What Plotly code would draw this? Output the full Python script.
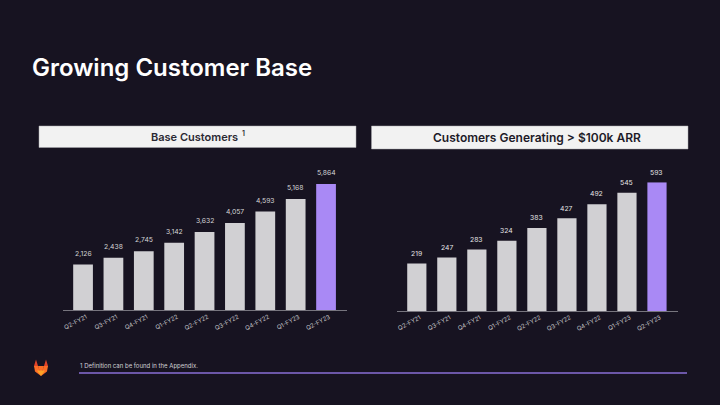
import plotly.graph_objects as go

W, H = 720, 405
categories_left = ["Q2-FY21", "Q3-FY21", "Q4-FY21", "Q1-FY22", "Q2-FY22", "Q3-FY22", "Q4-FY22", "Q1-FY23", "Q2-FY23"]
categories_right = ["Q2-FY21", "Q3-FY21", "Q4-FY21", "Q1-FY22", "Q2-FY22", "Q3-FY22", "Q4-FY22", "Q1-FY23", "Q2-FY23"]
base_customers = [2126, 2438, 2745, 3142, 3632, 4057, 4593, 5168, 5864]
large_customers = [219, 247, 283, 324, 383, 427, 492, 545, 593]

BG = "#171321"
GREY = "#d1d0d3"
PURPLE = "#a989f5"
FONT = "Inter"


def px(x):
    return x / W


def py(y):
    return 1 - y / H


def path(points):
    return "M " + " L ".join(f"{px(x):.5f},{py(y):.5f}" for x, y in points) + " Z"


def colors(n):
    return [GREY] * (n - 1) + [PURPLE]


fig = go.Figure()
fig.add_bar(
    x=list(range(9)), y=base_customers, xaxis="x", yaxis="y",
    marker=dict(color=colors(9), line=dict(width=0)), width=0.65, hoverinfo="skip",
)
fig.add_bar(
    x=list(range(9)), y=large_customers, xaxis="x2", yaxis="y2",
    marker=dict(color=colors(9), line=dict(width=0)), width=0.64, hoverinfo="skip",
)


def xaxis(x0, x1, labels):
    return dict(
        domain=[px(x0), px(x1)], range=[-0.67, 8.69], tickmode="array", tickvals=list(range(9)),
        ticktext=labels, tickangle=-28, tickfont=dict(family=FONT, size=6, color="#c4c4c8"),
        ticklabelshift=3,
        showgrid=False, zeroline=False, showline=True, linecolor="#77757e", linewidth=1, ticks="",
        fixedrange=True,
    )


def yaxis(anchor, top, base, vmax):
    return dict(
        domain=[py(base), py(top)], range=[0, vmax], visible=False, anchor=anchor, fixedrange=True,
    )


shapes = []
for x0, x1, y0, y1 in [(39, 356, 126, 147.5), (371.5, 688, 126, 149)]:
    shapes.append(dict(type="rect", xref="paper", yref="paper", x0=px(x0), x1=px(x1), y0=py(y0), y1=py(y1),
                       fillcolor="#f2f2f2", line=dict(color="#a9a9ad", width=0.5), layer="below"))
shapes.append(dict(type="line", xref="paper", yref="paper", x0=px(79), x1=px(687), y0=py(373), y1=py(373),
                   line=dict(color="#8a6fd6", width=1.3)))
# logo
logo = [
    ([(34, 366), (36, 359.5), (38, 366), (41, 375)], "#e24329"),
    ([(48, 366), (46, 359.5), (44, 366), (41, 375)], "#e24329"),
    ([(38, 366), (44, 366), (41, 376)], "#fc6d26"),
    ([(34, 366), (38, 366), (41, 376), (35, 371.5)], "#fc6d26"),
    ([(48, 366), (44, 366), (41, 376), (47, 371.5)], "#fc6d26"),
    ([(37, 370.5), (45, 370.5), (41, 376)], "#fca326"),
]
for pts, c in logo:
    shapes.append(dict(type="path", xref="paper", yref="paper", path=path(pts), fillcolor=c, line=dict(width=0)))


def text(x, y, s, size, color, weight=400, anchor="left"):
    return dict(xref="paper", yref="paper", x=px(x), y=py(y), text=s, showarrow=False, xanchor=anchor,
                yanchor="middle", font=dict(family=FONT, size=size, color=color, weight=weight))


def value_labels(values, xref, yref, shift, color):
    return [
        dict(xref=xref, yref=yref, x=i, y=v, text=f"{v:,}", showarrow=False, yshift=shift, yanchor="middle",
             font=dict(family=FONT, size=6.8, color=color))
        for i, v in enumerate(values)
    ]


annotations = [
    text(30, 68, "Growing Customer Base", 24, "#ffffff", 600),
    text(148.5, 136.5, "Base Customers", 11, "#2b2933", 600),
    text(240.5, 133.5, "1", 7, "#2b2933", 600),
    text(537, 137.5, "Customers Generating &gt; $100k ARR", 12, "#1d1a28", 600, "center"),
    text(77.5, 365.5, "1 Definition can be found in the Appendix.", 6, "#d0d0d4"),
]
annotations += value_labels(base_customers, "x", "y", 11.3, "#d4d4d6")
annotations += value_labels(large_customers, "x2", "y2", 10.3, "#e4e4e6")

fig.update_layout(
    width=W, height=H, margin=dict(l=0, r=0, t=0, b=0), autosize=False,
    paper_bgcolor=BG, plot_bgcolor=BG, showlegend=False, barmode="group",
    xaxis=xaxis(62.7, 347, categories_left),
    yaxis=yaxis("x", 184, 310.3, 5864),
    xaxis2=xaxis(396.7, 677.7, categories_right) | dict(anchor="y2"),
    yaxis2=yaxis("x2", 182.3, 311, 593),
    shapes=shapes, annotations=annotations,
)
fig.write_html("out.html", config=dict(displayModeBar=False),
               post_script="document.body.style.margin='0';document.body.style.background='#171321';document.documentElement.style.overflow='hidden';")
